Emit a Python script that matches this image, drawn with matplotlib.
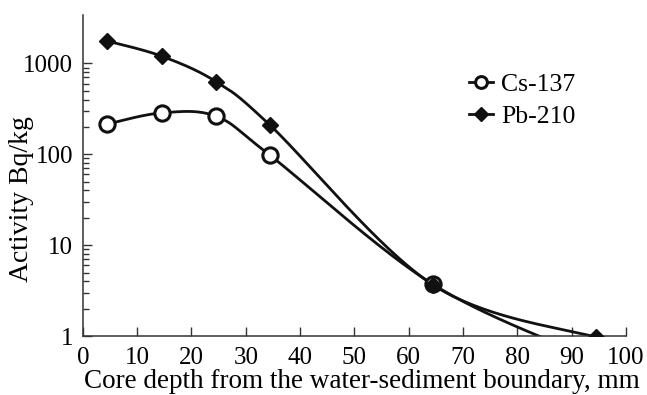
import numpy as np
import matplotlib.pyplot as plt
from matplotlib.ticker import FixedLocator, NullFormatter

# depth (mm) and activity (Bq/kg)
depth = [4.5, 14.5, 24.5, 34.5, 64.5, 94.5]
cs137 = [215, 285, 262, 97, 3.7, 0.55]   # last point falls below the axis
pb210 = [1760, 1200, 630, 208, 3.65, 0.97]


def smooth(x, y, n=40):
    # Catmull-Rom curve through the points, in log space (like a spreadsheet "smoothed line")
    px = np.array(x, dtype=float)
    py = np.log10(np.array(y, dtype=float))
    px = np.concatenate([[px[0]], px, [px[-1]]])
    py = np.concatenate([[py[0]], py, [py[-1]]])
    xs, ys = [], []
    t = np.linspace(0, 1, n)
    for i in range(1, len(px) - 2):
        p0 = np.array([px[i], py[i]])
        p3 = np.array([px[i + 1], py[i + 1]])
        c1 = p0 + (np.array([px[i + 1], py[i + 1]]) - np.array([px[i - 1], py[i - 1]])) / 6
        c2 = p3 - (np.array([px[i + 2], py[i + 2]]) - np.array([px[i], py[i]])) / 6
        b = ((1 - t) ** 3)[:, None] * p0 + (3 * (1 - t) ** 2 * t)[:, None] * c1 \
            + (3 * (1 - t) * t ** 2)[:, None] * c2 + (t ** 3)[:, None] * p3
        xs.extend(b[:, 0])
        ys.extend(b[:, 1])
    return np.array(xs), 10 ** np.array(ys)


plt.rcParams['font.family'] = 'Liberation Serif'
plt.rcParams['font.size'] = 18

fig = plt.figure(figsize=(6.47, 3.95), dpi=100)
ax = fig.add_axes([0.128, 0.149, 0.8395, 0.813])

sx, sy = smooth(depth, cs137)
ax.plot(sx, sy, color='#111111', lw=2.0, zorder=2)
sx, sy = smooth(depth, pb210)
ax.plot(sx, sy, color='#111111', lw=2.0, zorder=2)

ax.plot(depth, cs137, ls='none', marker='o', ms=11, mfc='white', mec='#111111', mew=2.2, zorder=3)
ax.plot(depth, pb210, ls='none', marker='D', ms=8.5, mfc='#111111', mec='#111111', zorder=4)

# legend handles
ax.plot([], [], color='#111111', lw=2.0, marker='o', ms=8.5, mfc='white', mew=2.2, label='Cs-137')
ax.plot([], [], color='#111111', lw=2.0, marker='D', ms=7, label='Pb-210')
ax.legend(loc='upper left', bbox_to_anchor=(0.692, 0.85), frameon=False, handlelength=0.95,
          handletextpad=0.3, labelspacing=0.33, borderaxespad=0, fontsize=18.5)

ax.set_yscale('log')
ax.set_xlim(0, 100)
ax.set_ylim(1, 3400)
ax.set_xticks(range(0, 101, 10))
ax.set_yticks([1, 10, 100, 1000])
ax.set_yticklabels(['1', '10', '100', '1000'])
ax.yaxis.set_minor_locator(FixedLocator([m * d for d in [1, 10, 100] for m in range(2, 10)]))
ax.yaxis.set_minor_formatter(NullFormatter())

for s in ['top', 'right']:
    ax.spines[s].set_visible(False)
for s in ['left', 'bottom']:
    ax.spines[s].set_color('#333333')
    ax.spines[s].set_linewidth(1.1)

ax.tick_params(which='major', direction='in', length=6.3, width=1.0, color='#333333')
ax.tick_params(which='minor', direction='in', length=4.3, width=1.0, color='#333333')
ax.tick_params(axis='x', pad=8)
ax.tick_params(axis='y', pad=7)

fig.text(0.559, 0.018, 'Core depth from the water-sediment boundary, mm',
         ha='center', va='baseline', fontsize=19.5)
fig.text(0.034, 0.495, 'Activity Bq/kg', rotation=90, ha='center', va='center', fontsize=20)

fig.savefig('out.png', dpi=100)
